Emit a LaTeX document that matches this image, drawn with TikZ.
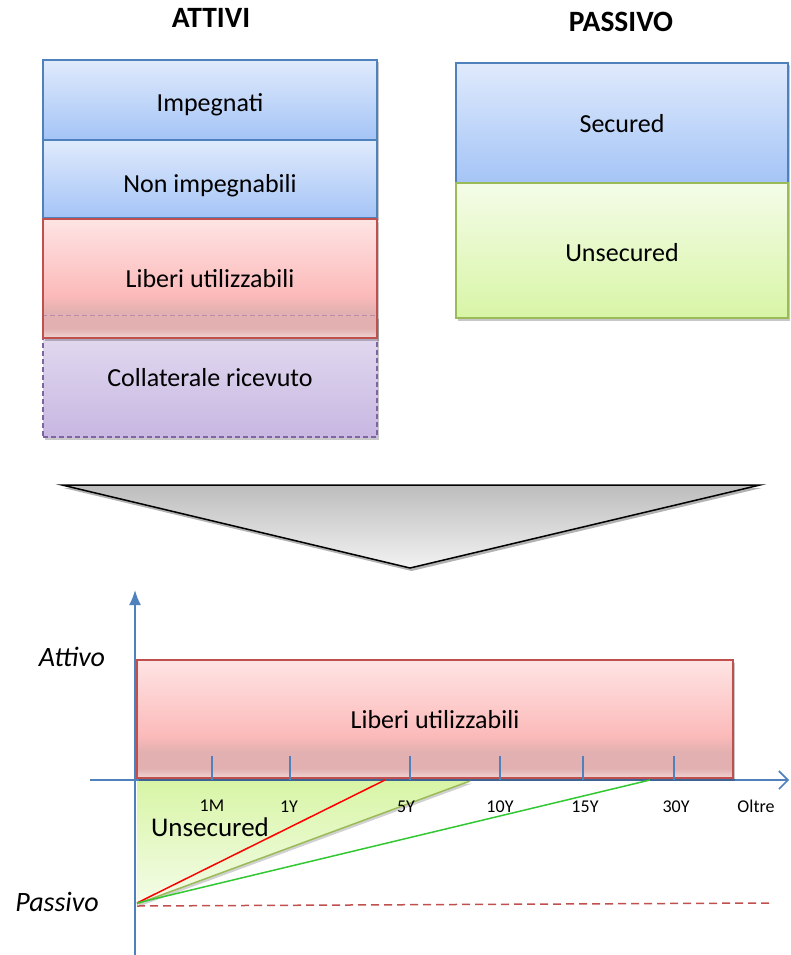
\documentclass[tikz,border=0pt]{standalone}
\usepackage{fontspec}
\setmainfont{Carlito}
\usetikzlibrary{arrows.meta,shadows,calc}
\definecolor{bluetop}{RGB}{224,234,252}
\definecolor{bluebot}{RGB}{164,196,246}
\definecolor{blueline}{RGB}{79,129,189}
\definecolor{redline}{RGB}{192,80,77}
\definecolor{redt}{RGB}{254,228,228}
\definecolor{redm}{RGB}{252,186,186}
\definecolor{redd}{RGB}{226,176,176}
\definecolor{redb}{RGB}{240,212,212}
\definecolor{purtop}{RGB}{230,223,241}
\definecolor{purbot}{RGB}{199,183,226}
\definecolor{purline}{RGB}{128,100,162}
\definecolor{grtop}{RGB}{244,252,232}
\definecolor{grbot}{RGB}{216,245,166}
\definecolor{grline}{RGB}{155,187,89}
\definecolor{axisblue}{RGB}{79,129,189}
\definecolor{lineg}{RGB}{50,200,50}
\definecolor{liner}{RGB}{255,0,0}
\pgfdeclareverticalshading{redsh}{100bp}{color(0bp)=(redb); color(25bp)=(redb); color(29bp)=(redd); color(36bp)=(redd); color(43bp)=(redm); color(75bp)=(redt); color(100bp)=(redt)}
\tikzset{
  box/.style={draw, line width=1.2pt, inner sep=0pt, text height=17pt, text depth=6pt,
    font=\fontsize{26}{30}\selectfont,
    drop shadow={shadow xshift=1.5pt, shadow yshift=-2.5pt, opacity=0.22, fill=black}},
  bluebox/.style={box, draw=blueline, top color=bluetop, bottom color=bluebot},
  redbox/.style={box, draw=redline, shading=redsh},
  purbox/.style={box, draw=purline, dashed, dash pattern=on 5pt off 3pt, top color=purtop, bottom color=purbot},
  greenbox/.style={box, draw=grline, top color=grtop, bottom color=grbot},
  heading/.style={font=\fontsize{29.5}{32}\selectfont\bfseries},
  side/.style={font=\fontsize{28}{32}\selectfont\itshape},
  ticklab/.style={font=\fontsize{18}{20}\selectfont, anchor=base, inner sep=0pt},
  axis/.style={draw=axisblue, line width=1.8pt},
  tickline/.style={draw=axisblue, line width=1.5pt},
}
\begin{document}
\begin{tikzpicture}[x=1pt,y=-1pt]
\useasboundingbox (0,0) rectangle (790,955);
% headings
\node[heading] (hA) at (211,18) {ATTIVI};
\node[heading] (hP) at (621,22) {PASSIVO};
% left column
\node[bluebox, minimum width=334pt, minimum height=80pt] (imp) at (210,100) {\raisebox{-6.5pt}{Impegnati}};
\node[bluebox, minimum width=334pt, minimum height=78pt] (nonimp) at (210,179) {\raisebox{-7.5pt}{Non impegnabili}};
\node[purbox, minimum width=334pt, minimum height=121pt] (coll) at (210,376.5) {\raisebox{-4.5pt}{Collaterale ricevuto}};
\node[redbox, minimum width=334pt, minimum height=119pt] (lib) at (210,278.5) {\raisebox{-3.5pt}{Liberi utilizzabili}};
\draw[draw=purline, opacity=0.45, line width=1.2pt, dash pattern=on 5pt off 3pt] (lib.west |- coll.north) -- (lib.east |- coll.north);
% right column
\node[bluebox, minimum width=332pt, minimum height=120pt] (sec) at (622,123) {\raisebox{-3.5pt}{Secured}};
\node[greenbox, minimum width=332pt, minimum height=135pt] (uns) at (622,250.5) {\raisebox{-5pt}{Unsecured}};
% big arrow triangle
\coordinate (tl) at (62,485);
\coordinate (tr) at (760,485);
\coordinate (tb) at (410,568);
\path[draw=black, line width=1.5pt, top color=black!26, bottom color=black!5,
  drop shadow={shadow xshift=1.5pt, shadow yshift=-3pt, opacity=0.3, fill=black}]
  (tl) -- (tr) -- (tb) -- cycle;
% chart
\coordinate (ybot) at (135,955);
\coordinate (ytop) at (135,590);
\coordinate (xl) at (90,780);
\coordinate (xr) at (789,780);
\draw[axis, -{Latex[length=15pt,width=12pt]}] (ybot) -- (ytop);
\draw[axis, -{Straight Barb[length=9pt,width=18pt,line width=1.6pt]}] (xl) -- (xr);
% green triangle
\coordinate (ga) at (137,781);
\coordinate (gb) at (470,781);
\coordinate (gc) at (137,904);
\path[top color=grbot, bottom color=grtop,
  drop shadow={shadow xshift=2pt, shadow yshift=-2.5pt, opacity=0.18, fill=black}]
  (ga) -- (gb) -- (gc) -- cycle;
\draw[draw=grline, line width=1.5pt] (gb) -- (gc);
\node[font=\fontsize{27}{30}\selectfont, anchor=base, inner sep=0pt] (unsc) at (210,836) {Unsecured};
% red box in chart
\node[redbox, minimum width=596pt, minimum height=118pt] (lib2) at (435,719) {\raisebox{-3.5pt}{Liberi utilizzabili}};
% ticks
\foreach \n/\xx in {t1/212, t2/290, t3/410, t4/500, t5/583, t6/674}{
  \coordinate (\n top) at (\xx,756);
  \coordinate (\n bot) at (\xx,780);
  \draw[tickline] (\n top) -- (\n bot);
}
\node[ticklab] (l1) at (212,811) {1M};
\node[ticklab] (l2) at (289,812) {1Y};
\node[ticklab] (l3) at (406,812) {5Y};
\node[ticklab] (l4) at (500,812) {10Y};
\node[ticklab] (l5) at (585,812) {15Y};
\node[ticklab] (l6) at (676,812) {30Y};
\node[ticklab] (l7) at (756,812) {Oltre};
% lines
\coordinate (P) at (137,903);
\coordinate (r5) at (385,780);
\coordinate (g30) at (650,780);
\coordinate (dl) at (137,906);
\coordinate (dr) at (770,903);
\draw[draw=redline, line width=1.5pt, dash pattern=on 8pt off 5pt] (dl) -- (dr);
\draw[draw=liner, line width=1.5pt] (P) -- (r5);
\draw[draw=lineg, line width=1.5pt] (P) -- (g30);
% side labels
\node[side] (att) at (72,657) {Attivo};
\node[side] (pas) at (57,902) {Passivo};
\end{tikzpicture}
\end{document}
